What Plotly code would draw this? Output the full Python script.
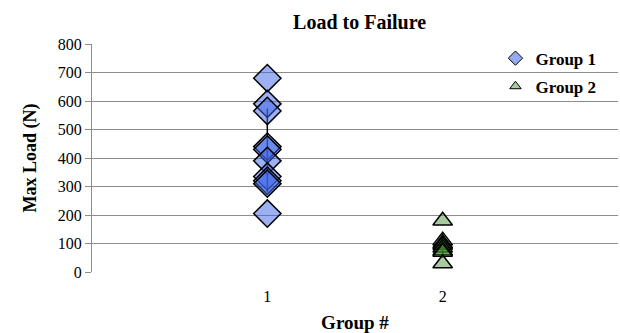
import numpy as np
import plotly.graph_objects as go

groups = ["Group 1", "Group 2"]
group_x = [1, 2]
group1_load = [680, 590, 565, 440, 430, 390, 335, 320, 310, 205]
group2_load = [180, 110, 100, 95, 85, 75, 70, 30]
y_ticks = [0, 100, 200, 300, 400, 500, 600, 700, 800]
x_ticks = [1, 2]

serif = "Liberation Serif"
fill1 = "rgba(60,100,230,0.5)"
fill2 = "rgba(60,140,40,0.45)"

fig = go.Figure()

# mean +/- SD bars
for gx, vals in zip(group_x, [group1_load, group2_load]):
    m = float(np.mean(vals))
    s = float(np.std(vals, ddof=1))
    fig.add_trace(go.Scatter(
        x=[gx, gx], y=[m - s, m + s], mode="lines",
        line=dict(color="black", width=1.5), showlegend=False, hoverinfo="skip"))

fig.add_trace(go.Scatter(
    x=[group_x[0]] * len(group1_load), y=group1_load, mode="markers",
    marker=dict(symbol="diamond", size=21, color=fill1,
                line=dict(color="black", width=1.5)),
    showlegend=False, name=groups[0]))
fig.add_trace(go.Scatter(
    x=[group_x[1]] * len(group2_load), y=group2_load, mode="markers",
    marker=dict(symbol="triangle-up", size=17, color=fill2,
                line=dict(color="black", width=1.5)),
    showlegend=False, name=groups[1]))

# legend entries
fig.add_trace(go.Scatter(
    x=[None], y=[None], mode="markers", name="<b>" + groups[0] + "</b>",
    legendgroup="g1",
    marker=dict(symbol="diamond", size=11, color="rgba(150,170,240,1)",
                line=dict(color="black", width=1))))
fig.add_trace(go.Scatter(
    x=[None], y=[None], mode="markers", name="<b>" + groups[1] + "</b>",
    legendgroup="g2",
    marker=dict(symbol="triangle-up", size=10, color="rgba(167,203,158,1)",
                line=dict(color="black", width=1))))

fig.update_layout(
    width=620, height=333,
    margin=dict(l=92, r=2, t=44, b=61),
    paper_bgcolor="white", plot_bgcolor="white",
    font=dict(family=serif, size=16, color="black"),
    title=dict(text="<b>Load to Failure</b>", x=0.58, xanchor="center",
               xref="container", y=0.934, yref="container", yanchor="middle",
               font=dict(family=serif, size=20, color="black")),
    showlegend=True,
    legend=dict(x=0.767, y=1.015, xanchor="left", yanchor="top",
                bgcolor="rgba(0,0,0,0)", font=dict(family=serif, size=17, color="black"),
                traceorder="grouped", tracegroupgap=3, itemwidth=30),
    xaxis=dict(range=[0, 3], tickvals=x_ticks, ticktext=[str(t) for t in x_ticks],
               showgrid=False, zeroline=False, showline=False,
               ticks="", ticklabelstandoff=13,
               tickfont=dict(family=serif, size=16, color="black"),
               title=dict(text="<b>Group #</b>", font=dict(family=serif, size=19, color="black"),
                          standoff=12)),
    yaxis=dict(range=[0, 800], tickvals=y_ticks, showgrid=True,
               gridcolor="#8c8c8c", gridwidth=1, zeroline=False,
               showline=True, linecolor="#8c8c8c", linewidth=1,
               ticks="outside", ticklen=6, tickcolor="#8c8c8c",
               tickfont=dict(family=serif, size=16, color="black"),
               title=dict(text="<b>Max Load (N)</b>", font=dict(family=serif, size=18, color="black"),
                          standoff=16)),
)

fig.write_html("out.html", config={"displayModeBar": False},
               post_script="document.body.style.margin='0';")
